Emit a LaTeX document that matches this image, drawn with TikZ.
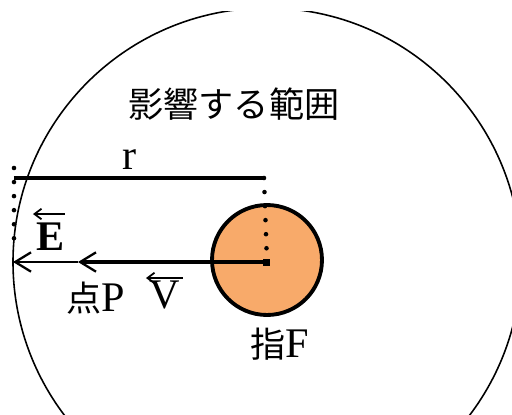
\documentclass[tikz,border=0pt]{standalone}
\usepackage{fontspec}
\setmainfont{Liberation Serif}
\newfontfamily\jpfont{Noto Sans CJK JP}
\usetikzlibrary{arrows.meta}
\definecolor{fingerorange}{RGB}{248,170,106}
\begin{document}
\begin{tikzpicture}[x=0.02cm, y=-0.02cm,
				every node/.style={font=\fontsize{20}{24}\selectfont, inner sep=0pt},
				latin/.style={font=\fontsize{24}{28}\selectfont},
				vecarrow/.style={line width=1pt, -{Straight Barb[length=4pt, width=6pt, line width=1pt]}},
				rangeline/.style={line width=0.9pt},
				guidedots/.style={line width=2.6pt, dash pattern=on 0pt off 8pt, line cap=round},
				field/.style={-{Straight Barb[length=9pt, width=11pt, line width=1.3pt]}}]
				\useasboundingbox (0,0) rectangle (512,414);
				\coordinate (F) at (267,262);
				\coordinate (P) at (78,262);
				\coordinate (edge) at (13,262);
				\coordinate (rleft) at (14,178);
				\coordinate (rright) at (264,178);
				\coordinate (Eright) at (65,214);
				\coordinate (Eleft) at (33,214);
				\coordinate (Vright) at (183,278);
				\coordinate (Vleft) at (146,278);
				\begin{scope}
					\clip (0,11) rectangle (512,414);
					\draw[rangeline] (F) circle[radius=254];
				\end{scope}
				\node[circle, draw, line width=2.2pt, fill=fingerorange, minimum size=2.2cm] (finger) at (267,260) {};
				\draw[guidedots] (14,168) -- (14,248);
				\draw[guidedots] (rright) -- (F);
				\draw[line width=2pt] (rleft) -- (rright);
				\draw[line width=2pt, field] (F) -- (P);
				\draw[line width=1.3pt, field] (P) -- (edge);
				\fill (F) ++(-3.5,-3.5) rectangle ++(7,7);
				\node (range) at (234,104) {\jpfont 影響する範囲};
				\node[latin] (rlabel) at (130,160) {r};
				\node[latin] (Elabel) at (51,237) {\textbf{E}};
				\draw[vecarrow] (Eright) -- (Eleft);
				\node (Plabel) at (96,298) {{\jpfont 点}{\fontsize{24}{28}\selectfont P}};
				\node[latin] (Vlabel) at (165,295) {V};
				\draw[vecarrow] (Vright) -- (Vleft);
				\node (Flabel) at (280,344) {{\jpfont 指}{\fontsize{24}{28}\selectfont F}};
			\end{tikzpicture}
\end{document}
